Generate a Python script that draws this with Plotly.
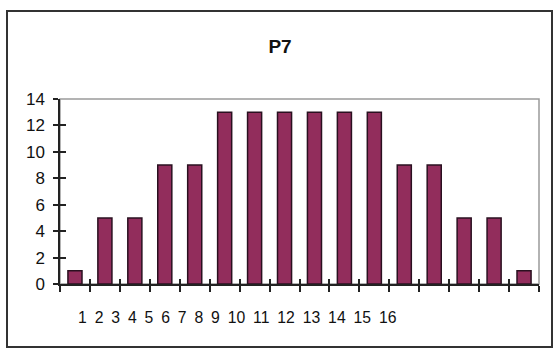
import plotly.graph_objects as go

categories = list(range(1, 17))
values = [1, 5, 5, 9, 9, 13, 13, 13, 13, 13, 13, 9, 9, 5, 5, 1]
tick_labels = [str(c) for c in categories]
y_ticks = [0, 2, 4, 6, 8, 10, 12, 14]
title_text = "P7"

FONT = "Liberation Sans, Arial, sans-serif"
boundaries = [c - 0.5 for c in categories] + [categories[-1] + 0.5]

fig = go.Figure()
fig.add_trace(go.Bar(
    x=categories, y=values, width=0.47,
    marker=dict(color="#922d5c", line=dict(color="#2a1020", width=1.5)),
    showlegend=False, hoverinfo="skip",
))
# invisible trace to anchor the overlay axes (inner tick halves)
fig.add_trace(go.Scatter(x=[categories[0]], y=[0], xaxis="x2", yaxis="y2",
                         mode="markers", marker=dict(opacity=0), showlegend=False,
                         hoverinfo="skip"))

xr = [categories[0] - 0.5, categories[-1] + 0.5]
yr = [0, 14]

fig.update_layout(
    width=560, height=351,
    margin=dict(l=60, r=21, t=99, b=67),
    paper_bgcolor="white", plot_bgcolor="white",
    font=dict(family=FONT, size=16, color="#111"),
    title=dict(text="<b>" + title_text + "</b>", x=0.5, xref="container",
               y=1 - 46 / 351, yanchor="middle", xanchor="center",
               font=dict(family=FONT, size=19, color="#111")),
    xaxis=dict(range=xr, tickmode="array", tickvals=boundaries, showticklabels=False,
               ticks="outside", ticklen=6, tickwidth=1.5, tickcolor="#222",
               showline=True, linecolor="#222", linewidth=1.5,
               showgrid=False, zeroline=False, fixedrange=True),
    xaxis2=dict(range=xr, tickmode="array", tickvals=boundaries, showticklabels=False,
                ticks="inside", ticklen=5, tickwidth=1.5, tickcolor="#222",
                overlaying="x", anchor="y", side="bottom", showline=False,
                showgrid=False, zeroline=False),
    yaxis=dict(range=yr, tickmode="array", tickvals=y_ticks,
               ticks="outside", ticklen=5, tickwidth=1.5, tickcolor="#222",
               ticklabelstandoff=5,
               showline=True, linecolor="#222", linewidth=1.5,
               showgrid=False, zeroline=False,
               tickfont=dict(family=FONT, size=17, color="#111")),
    yaxis2=dict(range=yr, tickmode="array", tickvals=y_ticks, showticklabels=False,
                ticks="inside", ticklen=6, tickwidth=1.5, tickcolor="#222",
                overlaying="y", anchor="x", side="left", showline=False,
                showgrid=False, zeroline=False),
)

# plot area frame (light gray top/right)
fig.add_shape(type="rect", xref="paper", yref="paper", x0=0, y0=0, x1=1, y1=1,
              line=dict(color="#9a9a9a", width=1.5), layer="below")
# outer chart border
pw, ph = 479, 185
fig.add_shape(type="rect", xref="paper", yref="paper",
              x0=(7 - 60) / pw, x1=(552 - 60) / pw,
              y0=(284 - 347) / ph, y1=(284 - 11) / ph,
              line=dict(color="#333", width=2), layer="below")

# crowded category labels, as in the original
fig.add_annotation(text="\u2002".join(tick_labels), xref="paper", yref="paper",
                   x=(76 - 60) / pw, y=(284 - 317) / ph, xanchor="left", yanchor="middle",
                   showarrow=False, font=dict(family=FONT, size=15.75, color="#111"))

fig.write_html("out.html")
